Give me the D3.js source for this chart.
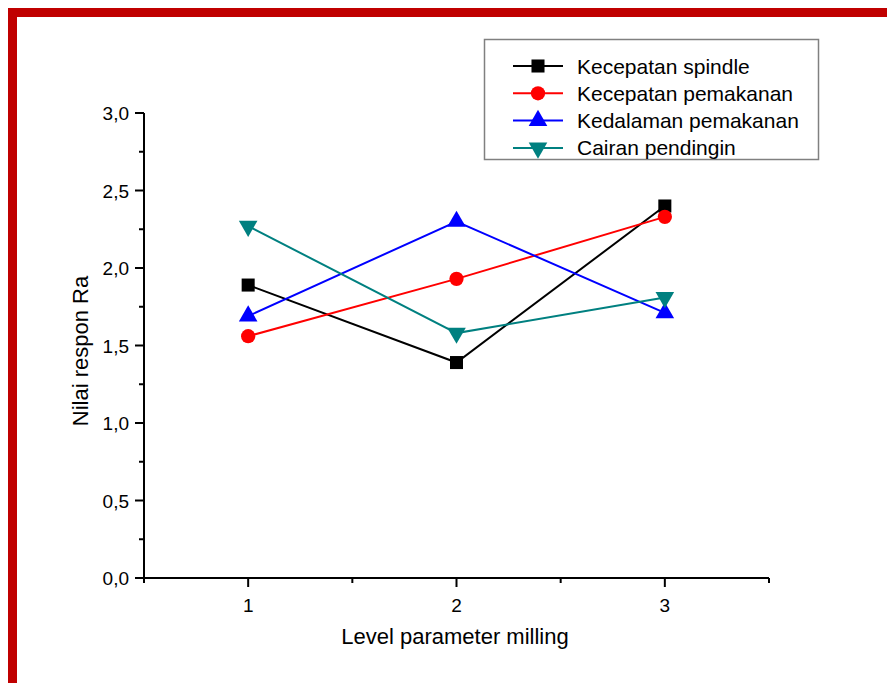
<!DOCTYPE html>
<html>
<head>
<meta charset="utf-8">
<script src="https://cdn.jsdelivr.net/npm/d3@7"></script>
<style>
  body { margin: 0; background: #fff; }
  svg text { font-family: "Liberation Sans", Arial, sans-serif; fill: #000; }
</style>
</head>
<body>
<div class="chart"></div>
<script>
// data
const levels = [1, 2, 3];
const seriesNames = ["Kecepatan spindle", "Kecepatan pemakanan", "Kedalaman pemakanan", "Cairan pendingin"];
const spindle = [1.89, 1.39, 2.40];
const pemakanan = [1.56, 1.93, 2.33];
const kedalaman = [1.69, 2.30, 1.71];
const pendingin = [2.27, 1.58, 1.81];
const yTicks = [0, 0.5, 1.0, 1.5, 2.0, 2.5, 3.0];

const seriesColors = ["#000000", "#ff0000", "#0000ff", "#008080"];
const seriesSymbols = [d3.symbolSquare, d3.symbolCircle, d3.symbolTriangle, d3.symbolTriangle];
const seriesValues = [spindle, pemakanan, kedalaman, pendingin];
const symbolSize = s => s === 0 ? 170 : s === 1 ? 160 : 150;

const W = 887, H = 683;
const svg = d3.select(".chart").append("svg")
    .attr("width", W)
    .attr("height", H);

// red frame (top and left only, as in the picture)
svg.append("rect").attr("x", 8).attr("y", 8).attr("width", W - 8).attr("height", 9).attr("fill", "#c00000");
svg.append("rect").attr("x", 8).attr("y", 8).attr("width", 9).attr("height", H - 8).attr("fill", "#c00000");

const x = d3.scaleLinear().domain([0.5, 3.5]).range([144, 769]);
const y = d3.scaleLinear().domain([0, 3]).range([578, 113]);

// x axis
const xAxis = svg.append("g").attr("transform", "translate(0," + y(0) + ")");
xAxis.append("line").attr("x1", x(0.5)).attr("x2", x(3.5)).attr("stroke", "#000").attr("stroke-width", 2);
xAxis.selectAll(".minor").data([0.5, 1.5, 2.5, 3.5]).enter().append("line")
    .attr("x1", d => x(d)).attr("x2", d => x(d)).attr("y1", 0).attr("y2", 5)
    .attr("stroke", "#000").attr("stroke-width", 2);
xAxis.selectAll(".major").data(levels).enter().append("line")
    .attr("x1", d => x(d)).attr("x2", d => x(d)).attr("y1", 0).attr("y2", 9)
    .attr("stroke", "#000").attr("stroke-width", 2);
xAxis.selectAll(".lbl").data(levels).enter().append("text")
    .attr("x", d => x(d)).attr("y", 34)
    .attr("text-anchor", "middle").attr("font-size", 19)
    .text(d => d);

// y axis
const yAxis = svg.append("g").attr("transform", "translate(" + x(0.5) + ",0)");
yAxis.append("line").attr("y1", y(0)).attr("y2", y(3)).attr("stroke", "#000").attr("stroke-width", 2);
yAxis.selectAll(".minor").data(d3.range(0.25, 3, 0.5)).enter().append("line")
    .attr("y1", d => y(d)).attr("y2", d => y(d)).attr("x1", 0).attr("x2", -5)
    .attr("stroke", "#000").attr("stroke-width", 2);
yAxis.selectAll(".major").data(yTicks).enter().append("line")
    .attr("y1", d => y(d)).attr("y2", d => y(d)).attr("x1", 0).attr("x2", -9)
    .attr("stroke", "#000").attr("stroke-width", 2);
yAxis.selectAll(".lbl").data(yTicks).enter().append("text")
    .attr("x", -15).attr("y", d => y(d) + 7)
    .attr("text-anchor", "end").attr("font-size", 19)
    .text(d => d3.format(".1f")(d).replace(".", ","));

// axis titles
svg.append("text")
    .attr("x", 455).attr("y", 644)
    .attr("text-anchor", "middle").attr("font-size", 22)
    .text("Level parameter milling");
svg.append("text")
    .attr("transform", "translate(88,351) rotate(-90)")
    .attr("text-anchor", "middle").attr("font-size", 22)
    .text("Nilai respon Ra");

// series
const line = d3.line().x((d, i) => x(levels[i])).y(d => y(d));
seriesValues.forEach((vals, s) => {
    svg.append("path").datum(vals)
        .attr("d", line)
        .attr("fill", "none")
        .attr("stroke", seriesColors[s])
        .attr("stroke-width", 2);
    svg.selectAll(".m" + s).data(vals).enter().append("path")
        .attr("d", d3.symbol().type(seriesSymbols[s]).size(symbolSize(s)))
        .attr("transform", (d, i) => "translate(" + x(levels[i]) + "," + y(d) + ")" + (s === 3 ? " rotate(180)" : ""))
        .attr("fill", seriesColors[s]);
});

// legend
const legend = svg.append("g");
legend.append("rect").attr("x", 484.5).attr("y", 39.5).attr("width", 334).attr("height", 120)
    .attr("fill", "#fff").attr("stroke", "#808080").attr("stroke-width", 1.5);
seriesNames.forEach((name, s) => {
    const ly = 66 + s * 27.3;
    legend.append("line").attr("x1", 513).attr("x2", 563).attr("y1", ly).attr("y2", ly)
        .attr("stroke", seriesColors[s]).attr("stroke-width", 2);
    legend.append("path")
        .attr("d", d3.symbol().type(seriesSymbols[s]).size(symbolSize(s)))
        .attr("transform", "translate(538," + ly + ")" + (s === 3 ? " rotate(180)" : ""))
        .attr("fill", seriesColors[s]);
    legend.append("text").attr("x", 577).attr("y", ly + 7.5)
        .attr("font-size", 21).text(name);
});
</script>
</body>
</html>
